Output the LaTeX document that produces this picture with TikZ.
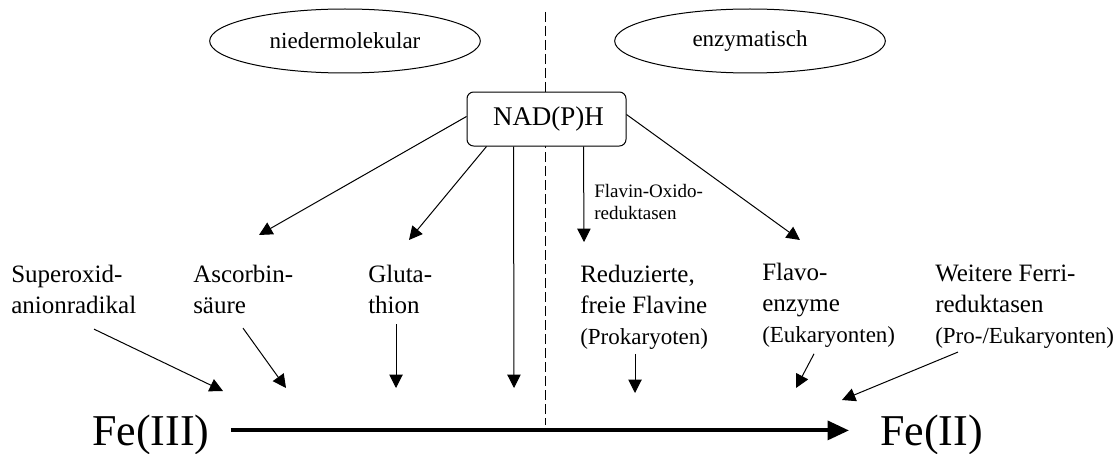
\documentclass[tikz,border=0pt]{standalone}
\usepackage{fontspec}
\setmainfont{Liberation Serif}
\usetikzlibrary{arrows.meta,shapes.geometric,calc}
\begin{document}
\begin{tikzpicture}[x=0.75pt,y=-0.75pt,
  lab/.style={anchor=north west,inner sep=0pt,align=left,font=\fontsize{18.75}{23.25}\selectfont},
  small/.style={anchor=north west,inner sep=0pt,align=left,font=\fontsize{14.25}{16.5}\selectfont},
  oval/.style={draw,ellipse,line width=0.75pt,minimum width=203pt,minimum height=48pt,inner sep=0pt,font=\fontsize{17.25}{20}\selectfont},
  nadbox/.style={draw,fill=white,rounded corners=5pt,line width=0.75pt,minimum width=119.25pt,minimum height=40.5pt,inner sep=0pt,font=\fontsize{20.25}{24}\selectfont},
  arr/.style={-{Triangle[length=10pt,width=10pt]},line width=0.75pt},
  mainarr/.style={-{Triangle[length=16pt,width=14pt]},line width=3pt},
  fe/.style={anchor=base west,inner sep=0pt,font=\fontsize{33}{36}\selectfont},
  divider/.style={dash pattern=on 7.5pt off 3pt,line width=0.75pt}]
\useasboundingbox (0,0) rectangle (1120,453);
% ovals
\node[oval] (nm) at (345,41) {niedermolekular};
\node[oval] (en) at (750,41) {enzymatisch};
% divider
\coordinate (dtop) at (545,12);
\coordinate (dbot) at (545,425);
\draw[divider] (dtop) -- (dbot);
% NAD(P)H
\node[nadbox] (nad) at (546.5,119) {\hspace*{3pt}NAD(P)H};
% labels
\node[lab] (sup) at (11,265) {Superoxid-\\anionradikal};
\node[lab] (asc) at (193,265) {Ascorbin-\\säure};
\node[lab] (glu) at (368,265) {Gluta-\\thion};
\node[lab] (red) at (580,265) {Reduzierte,\\freie Flavine\\{\fontsize{17.25}{23.25}\selectfont(Prokaryoten)}};
\node[lab] (fla) at (762,263) {Flavo-\\enzyme\\{\fontsize{17.25}{23.25}\selectfont(Eukaryonten)}};
\node[lab] (wei) at (935,265) {Weitere Ferri-\\reduktasen\\{\fontsize{17.25}{23.25}\selectfont(Pro-/Eukaryonten)}};
\node[small] (fox) at (594,184) {Flavin-Oxido-\\reduktasen};
% Fe
\node[fe] (fe3) at (92,445) {Fe(III)};
\node[fe] (fe2) at (880,445) {Fe(II)};
\draw[mainarr,shorten <=15.75pt,shorten >=23.25pt] ([yshift=3pt]fe3.east) -- ([yshift=3pt]fe2.west);
% tips from NAD(P)H
\coordinate (tasc) at (259,235);
\coordinate (tglu) at (409,240);
\coordinate (tlong) at (514,388);
\coordinate (tfox) at (584,242);
\coordinate (tfla) at (800,240);
\draw[arr] ($(nad.north west)+(0,25)$) -- (tasc);
\draw[arr] ($(nad.south west)+(20,0)$) -- (tglu);
\draw[arr] ($(nad.south west)+(47,0)$) -- (tlong);
\draw[arr] ($(nad.south west)+(117,0)$) -- (tfox);
\draw[arr] ($(nad.north east)+(0,23)$) -- (tfla);
% arrows to the reaction
\coordinate (t1) at (223,391);
\coordinate (t2) at (286,388);
\coordinate (t3) at (396,388);
\coordinate (t5) at (635,393);
\coordinate (t6) at (796,388);
\coordinate (t7) at (842,400);
\draw[arr] ($(sup.south west)+(83,15)$) -- (t1);
\draw[arr] ($(asc.south west)+(50,14)$) -- (t2);
\draw[arr] ($(glu.south west)+(28,10)$) -- (t3);
\draw[arr] ($(red.south west)+(55,4)$) -- (t5);
\draw[arr] ($(fla.south west)+(52,6)$) -- (t6);
\draw[arr] ($(wei.south west)+(23,3)$) -- (t7);
\end{tikzpicture}
\end{document}
